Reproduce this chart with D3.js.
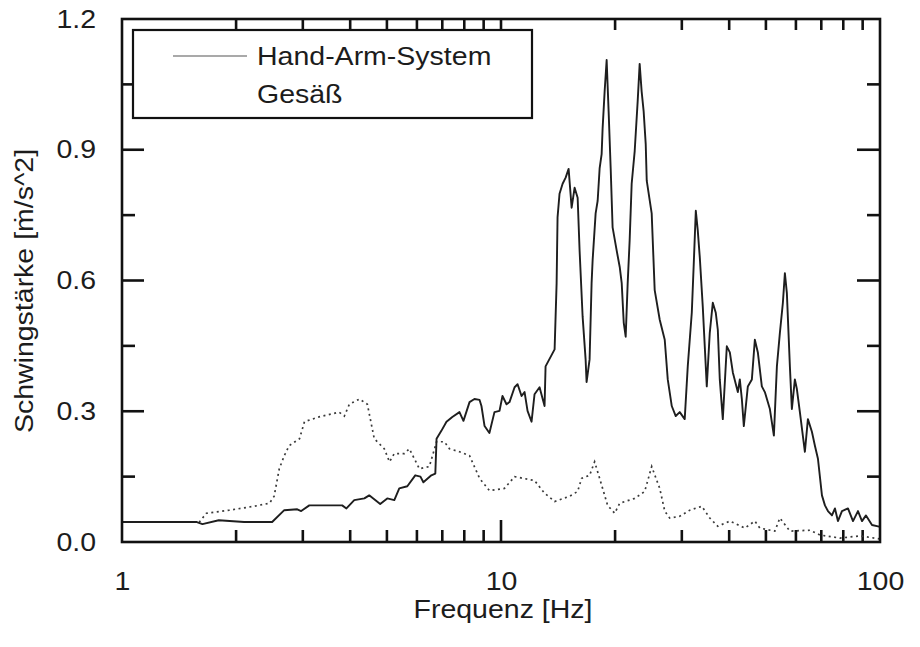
<html>
<head>
<style>
    body { margin: 0; background: #ffffff; }
    text { font-family: "Liberation Sans", Arial, sans-serif; fill: #1c1c1c; }
</style>
</head>
<body>
<svg id="container" width="920" height="647"></svg>

<script src="https://cdn.jsdelivr.net/npm/d3@7"></script>
<script>
    // Hand-Arm-System (solid line)
    let handFreq = [1, 1.57, 1.63, 1.80, 2.10, 2.49, 2.68, 2.90, 2.97, 3.12, 3.81, 3.91, 4.10, 4.36, 4.49, 4.80, 5.01, 5.23, 5.39, 5.66,
        5.94, 6.13, 6.24, 6.55, 6.71, 6.76, 6.96, 7.18, 7.44, 7.77, 7.96, 8.26, 8.51, 8.78, 8.88, 9.05, 9.32, 9.61, 9.91, 10.09,
        10.34, 10.53, 10.86, 11.06, 11.33, 11.54, 11.75, 12.04, 12.26, 12.64, 13.03, 13.11, 13.85, 14.02, 14.10, 14.27, 14.54, 14.81, 15.08, 15.36,
        15.64, 15.93, 16.12, 16.42, 16.72, 16.82, 17.13, 17.34, 17.45, 17.77, 17.99, 18.21, 18.43, 18.54, 18.77, 19.00, 19.23, 19.47, 19.70, 20.19,
        20.57, 20.82, 21.08, 21.33, 21.59, 21.85, 22.12, 22.53, 22.94, 23.22, 23.50, 23.79, 24.09, 24.24, 24.98, 25.44, 26.23, 27.04, 27.54, 28.22,
        28.91, 29.62, 30.53, 31.10, 31.87, 32.26, 32.66, 33.05, 33.46, 34.07, 34.91, 35.55, 36.21, 36.87, 37.33, 37.78, 38.48, 39.43, 40.16, 40.90,
        42.16, 42.67, 43.20, 43.72, 44.80, 45.91, 46.75, 47.61, 48.78, 49.68, 51.22, 52.48, 53.45, 54.43, 55.43, 56.11, 56.79, 57.84, 58.54, 59.62,
        60.35, 61.46, 63.36, 64.53, 66.12, 67.34, 68.59, 70.28, 71.57, 72.89, 74.69, 76.06, 77.45, 79.37, 82.32, 84.87, 87.48, 89.64, 91.84, 95.26,
        98.79, 100]
    let handValues = [0.046, 0.046, 0.041, 0.050, 0.046, 0.046, 0.073, 0.075, 0.071, 0.084, 0.084, 0.077, 0.096, 0.100, 0.107, 0.087, 0.100, 0.096, 0.123, 0.128,
        0.153, 0.150, 0.137, 0.153, 0.157, 0.237, 0.255, 0.276, 0.287, 0.298, 0.278, 0.321, 0.328, 0.326, 0.312, 0.266, 0.250, 0.298, 0.301, 0.335,
        0.316, 0.321, 0.355, 0.362, 0.335, 0.344, 0.301, 0.276, 0.339, 0.355, 0.312, 0.403, 0.442, 0.594, 0.745, 0.799, 0.822, 0.836, 0.856, 0.767,
        0.813, 0.790, 0.669, 0.517, 0.419, 0.367, 0.419, 0.594, 0.647, 0.754, 0.783, 0.858, 0.890, 0.949, 1.034, 1.106, 0.988, 0.858, 0.722, 0.669,
        0.631, 0.594, 0.503, 0.471, 0.594, 0.692, 0.822, 0.897, 1.011, 1.097, 1.034, 0.988, 0.913, 0.829, 0.754, 0.578, 0.510, 0.464, 0.373, 0.312,
        0.289, 0.298, 0.282, 0.403, 0.526, 0.640, 0.760, 0.715, 0.653, 0.540, 0.357, 0.480, 0.549, 0.526, 0.487, 0.373, 0.282, 0.449, 0.435, 0.389,
        0.344, 0.373, 0.328, 0.266, 0.357, 0.373, 0.464, 0.435, 0.357, 0.344, 0.305, 0.244, 0.403, 0.480, 0.549, 0.617, 0.571, 0.403, 0.305, 0.373,
        0.351, 0.298, 0.207, 0.282, 0.253, 0.221, 0.191, 0.107, 0.084, 0.071, 0.061, 0.077, 0.048, 0.071, 0.077, 0.048, 0.071, 0.048, 0.061, 0.039,
        0.036, 0.035]

    // Gesäß (dotted line)
    let gesFreq = [1, 1.60, 1.67, 1.92, 2.23, 2.45, 2.52, 2.60, 2.68, 2.76, 2.94, 3.03, 3.31, 3.74, 3.86, 3.98, 4.23, 4.44, 4.63, 4.92,
        5.08, 5.23, 5.56, 5.73, 6.09, 6.47, 6.76, 7.09, 7.31, 7.77, 8.26, 8.78, 9.32, 10.21, 10.86, 12.26, 13.03, 13.85, 15.17, 15.93,
        16.32, 17.13, 17.66, 18.21, 19.11, 19.95, 20.57, 22.53, 23.94, 24.98, 26.23, 27.04, 27.87, 29.62, 31.48, 33.87, 35.55, 37.33, 40.16, 43.99,
        46.75, 48.19, 52.79, 54.43, 57.84, 65.33, 69.43, 78.41, 88.55, 100]
    let gesValues = [0.046, 0.046, 0.066, 0.073, 0.082, 0.089, 0.105, 0.168, 0.198, 0.221, 0.237, 0.276, 0.287, 0.298, 0.289, 0.316, 0.328, 0.316, 0.237, 0.214,
        0.184, 0.203, 0.203, 0.214, 0.168, 0.173, 0.230, 0.230, 0.214, 0.207, 0.198, 0.146, 0.118, 0.123, 0.150, 0.141, 0.112, 0.093, 0.105, 0.116,
        0.146, 0.153, 0.184, 0.146, 0.084, 0.066, 0.089, 0.100, 0.116, 0.173, 0.123, 0.071, 0.055, 0.059, 0.073, 0.082, 0.055, 0.036, 0.048, 0.032,
        0.048, 0.032, 0.025, 0.055, 0.025, 0.027, 0.016, 0.009, 0.014, 0.007]

    let seriesNames = ["Hand-Arm-System", "Gesäß"]
    let xLabelTicks = [1, 10, 100]
    let xMinorTicks = [2, 3, 4, 5, 6, 7, 8, 9, 20, 30, 40, 50, 60, 70, 80, 90]
    let xMajorTicks = [10]
    let yLabelTicks = [0, 0.3, 0.6, 0.9, 1.2]
    let yMajorTicks = [0.3, 0.6, 0.9]
    let yMinorTicks = [0.15, 0.45, 0.75, 1.05]
    let xTitle = "Frequenz [Hz]"
    let yTitle = "Schwingstärke [ṁ/s^2]"

    let svg = d3.select("#container")

    let plotLeft = 122, plotRight = 880, plotTop = 19, plotBottom = 542
    let stretchK = 1.14

    let x = d3.scaleLog().domain([1, 100]).range([plotLeft, plotRight])
    let y = d3.scaleLinear().domain([0, 1.2]).range([plotBottom, plotTop])

    // the scanned font is a bit wider than Liberation Sans
    function stretch(sel) {
        sel.each(function () {
            let w = this.getComputedTextLength()
            d3.select(this).attr("textLength", w * stretchK).attr("lengthAdjust", "spacingAndGlyphs")
        })
    }

    let tickLayer = svg.append("g")

    // inward ticks, bottom and top
    function xTicks(values, lenBottom, lenTop) {
        tickLayer.selectAll(null).data(values).enter().append("line")
            .attr("x1", d => x(d)).attr("x2", d => x(d))
            .attr("y1", plotBottom).attr("y2", plotBottom - lenBottom)
            .attr("stroke", "#111").attr("stroke-width", 2.6)
        tickLayer.selectAll(null).data(values).enter().append("line")
            .attr("x1", d => x(d)).attr("x2", d => x(d))
            .attr("y1", plotTop).attr("y2", plotTop + lenTop)
            .attr("stroke", "#111").attr("stroke-width", 2.6)
    }
    // inward ticks, left and right
    function yTicks(values, lenLeft, lenRight) {
        tickLayer.selectAll(null).data(values).enter().append("line")
            .attr("x1", plotLeft).attr("x2", plotLeft + lenLeft)
            .attr("y1", d => y(d)).attr("y2", d => y(d))
            .attr("stroke", "#111").attr("stroke-width", 2.6)
        tickLayer.selectAll(null).data(values).enter().append("line")
            .attr("x1", plotRight).attr("x2", plotRight - lenRight)
            .attr("y1", d => y(d)).attr("y2", d => y(d))
            .attr("stroke", "#111").attr("stroke-width", 2.6)
    }
    xTicks(xMinorTicks, 12, 11)
    xTicks(xMajorTicks, 22, 20)
    yTicks(yMinorTicks, 13, 13)
    yTicks(yMajorTicks, 22, 23)

    // tick labels
    let xLab = svg.append("g")
        .attr("transform", `translate(0,${plotBottom})`)
        .call(d3.axisBottom(x).tickValues(xLabelTicks).tickFormat(d3.format("d")).tickSize(0).tickPadding(30))
    xLab.select(".domain").remove()
    xLab.selectAll("text").attr("font-size", 25).attr("font-family", null).call(stretch)

    let yLab = svg.append("g")
        .attr("transform", `translate(${plotLeft},0)`)
        .call(d3.axisLeft(y).tickValues(yLabelTicks).tickFormat(d3.format(".1f")).tickSize(0).tickPadding(26))
    yLab.select(".domain").remove()
    yLab.selectAll("text").attr("font-size", 25).attr("font-family", null).call(stretch)

    // lines
    let line = d3.line()
        .x(d => x(d[0]))
        .y(d => y(d[1]))

    svg.append("path")
        .datum(gesFreq.map((f, i) => [f, gesValues[i]]))
        .attr("d", line)
        .attr("fill", "none")
        .attr("stroke", "#3a3a3a")
        .attr("stroke-width", 1.7)
        .attr("stroke-dasharray", "2,3.5")

    svg.append("path")
        .datum(handFreq.map((f, i) => [f, handValues[i]]))
        .attr("d", line)
        .attr("fill", "none")
        .attr("stroke", "#1e1e1e")
        .attr("stroke-width", 1.9)
        .attr("stroke-linejoin", "round")

    // frame
    svg.append("rect")
        .attr("x", plotLeft).attr("y", plotTop)
        .attr("width", plotRight - plotLeft).attr("height", plotBottom - plotTop)
        .attr("fill", "none")
        .attr("stroke", "#111")
        .attr("stroke-width", 2.6)

    // legend
    let legend = svg.append("g")
    legend.append("rect")
        .attr("x", 133).attr("y", 30)
        .attr("width", 399).attr("height", 88)
        .attr("fill", "#fff")
        .attr("stroke", "#111")
        .attr("stroke-width", 2.2)
    legend.append("line")
        .attr("x1", 173).attr("x2", 247)
        .attr("y1", 56).attr("y2", 56)
        .attr("stroke", "#555")
        .attr("stroke-width", 1.1)
    legend.selectAll(".legtext")
        .data(seriesNames)
        .enter()
        .append("text")
        .attr("class", "legtext")
        .attr("x", 257)
        .attr("y", (d, i) => 65 + i * 38)
        .attr("font-size", 25)
        .text(d => d)
        .call(stretch)

    // axis titles
    svg.append("text")
        .attr("x", 503).attr("y", 618)
        .attr("text-anchor", "middle")
        .attr("font-size", 25)
        .text(xTitle)
        .call(stretch)

    svg.append("text")
        .attr("transform", "translate(33,291) rotate(-90)")
        .attr("text-anchor", "middle")
        .attr("font-size", 25)
        .text(yTitle)
        .call(stretch)
</script>
</body>
</html>
